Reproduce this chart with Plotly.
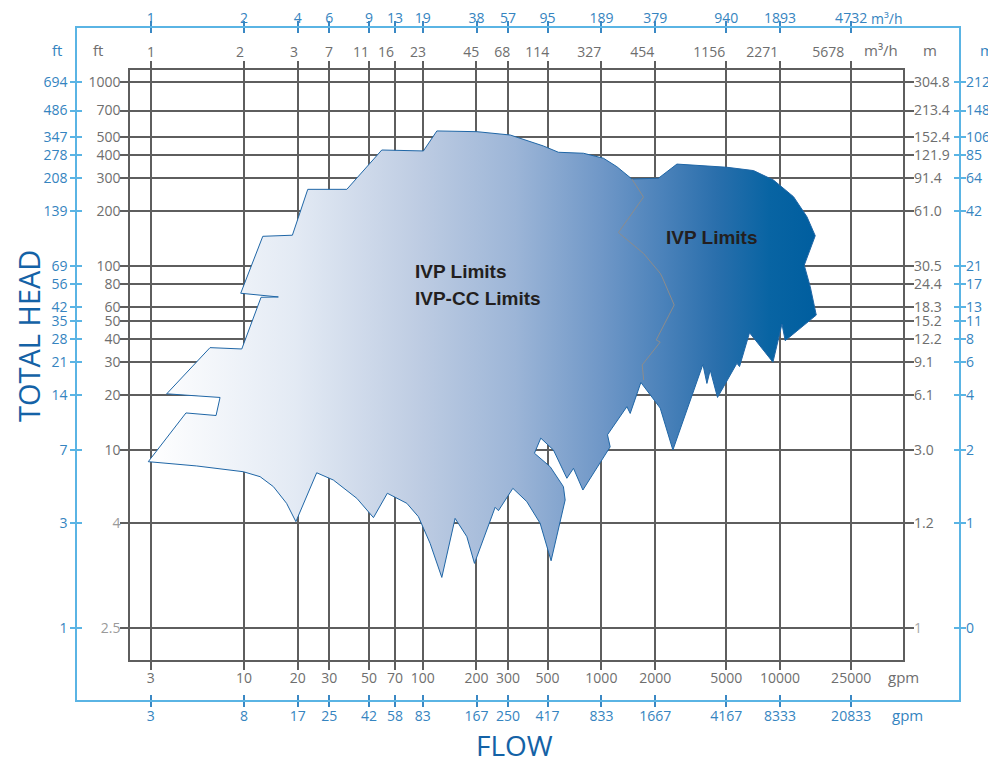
import numpy as np
import plotly.graph_objects as go

# ---------------- data ----------------
flow_gpm_ticks = [3, 10, 20, 30, 50, 70, 100, 200, 300, 500, 1000, 2000, 5000, 10000, 25000]
flow_gpm_labels = [str(v) for v in flow_gpm_ticks]
flow_gpm_blue_labels = ['3', '8', '17', '25', '42', '58', '83', '167', '250', '417', '833',
                        '1667', '4167', '8333', '20833']
flow_top_gray_labels = ['1', '2', '3', '7', '11', '16', '23', '45', '68', '114', '327', '454',
                        '1156', '2271', '5678']
flow_top_blue_labels = ['1', '2', '4', '6', '9', '13', '19', '38', '57', '95', '189', '379',
                        '940', '1893', '4732']

head_ft_ticks = [1000, 700, 500, 400, 300, 200, 100, 80, 60, 50, 40, 30, 20, 10, 4, 1.08]
head_ft_labels = ['1000', '700', '500', '400', '300', '200', '100', '80', '60', '50', '40',
                  '30', '20', '10', '4', '2.5']
head_m_labels = ['304.8', '213.4', '152.4', '121.9', '91.4', '61.0', '30.5', '24.4', '18.3',
                 '15.2', '12.2', '9.1', '6.1', '3.0', '1.2', '1']
head_blue_left_labels = ['694', '486', '347', '278', '208', '139', '69', '56', '42', '35', '28',
                         '21', '14', '7', '3', '1']
head_blue_right_labels = ['212', '148', '106', '85', '64', '42', '21', '17', '13', '11', '8',
                          '6', '4', '2', '1', '0']

# outline of the combined IVP / IVP-CC operating limits (gpm, ft)
limit_flow = [2.91, 4.73, 6.97, 7.34, 3.69, 6.45, 9.71, 12.45, 15.56, 9.58, 12.73, 18.64, 22.73,
              37.6, 59.0, 100.9, 120, 201, 309, 474, 575, 794, 1028, 1221, 1482, 2088, 2647,
              5043, 7105, 9196, 11900, 14150, 15740, 13660, 14760, 15950, 10690, 10250, 9125,
              6748, 5932, 5736, 4467, 4066, 3897, 3701, 2513, 2134, 1664, 1450, 1389, 1082,
              1120, 788, 698, 641, 539, 458, 422, 517, 613, 627, 523, 454, 382.5, 319.5, 265.4,
              254.3, 194.8, 176.6, 151.8, 127.9, 110, 94.6, 81.5, 63.4, 53.0, 42.8, 31.6, 25.5,
              19.5, 17.3, 14.6, 12.3, 9.91, 5.43]
limit_head = [8.64, 15.9, 15.4, 19.3, 20.2, 36.0, 35.4, 67.6, 67.9, 71.1, 145, 147, 261, 261,
              427, 422, 542, 537, 515, 449, 415, 410, 385, 346.5, 297, 300, 358, 344, 330, 293,
              238, 185, 146, 101, 77.2, 54.1, 39.3, 48.4, 30.0, 43.4, 28.4, 29.6, 19.3, 27.2,
              23.0, 29.2, 10.0, 16.9, 23.3, 15.8, 17.2, 12.1, 10.4, 6.06, 7.95, 7.02, 10.0, 11.6,
              9.60, 8.11, 6.32, 5.35, 2.50, 4.00, 5.24, 6.19, 4.68, 4.88, 2.42, 3.38, 4.25, 2.03,
              3.11, 4.34, 5.13, 5.82, 4.29, 5.46, 6.87, 7.52, 4.08, 5.13, 6.32, 7.16, 7.62, 8.19]

# right edge of the IVP-CC region (inside the IVP region)
cc_edge_flow = [1482, 1721, 1246, 1721, 2134, 2189, 2556, 2027, 2134, 1692, 1725]
cc_edge_head = [297, 237, 152, 117, 91.3, 87.1, 61.4, 39.6, 38.6, 29.0, 24.0]

# region label anchors (gpm, ft)
label_texts = ['IVP Limits', 'IVP-CC Limits', 'IVP Limits']
label_flow = [88.3, 88.3, 2247]
label_head = [93.9, 67.0, 142]

# ---------------- geometry (page pixels) ----------------
PAGE_W, PAGE_H = 996, 764
BODY = 8                                  # default page margin around the figure
W, H = PAGE_W - BODY, PAGE_H - BODY
FL, FR, FT, FB = 77, 958.7, 28, 700      # outer blue frame
IL, IR, IT, IB = 130, 903, 70, 660       # inner gray frame
X0, SX = 244, 178.6                      # px of 10 gpm, px per decade
Y0, SY = 82, 184                         # px of 1000 ft, px per decade


def lx(p):
    return 1 + (p - X0) / SX


def ly(p):
    return 3 - (p - Y0) / SY


def pxp(p):
    return (p - FL) / (FR - FL)


def pyp(p):
    return (FB - p) / (FB - FT)


top_label_px = [151, 240, 294, 329, 361, 386, 418, 471, 502, 537, 589, 642, 709, 762, 828]
top_label_pos = [10 ** lx(p) for p in top_label_px]

GRAY = '#5e5e5e'
GTXT = '#6e6e6e'
BLINE = '#5ab4e4'
BTXT = '#3584c0'
FONT = 'Open Sans'

fig = go.Figure()

for xa, ya in [('x3', 'y3'), ('x4', 'y4'), ('x2', 'y2'), ('x5', 'y')]:
    fig.add_trace(go.Scatter(x=[], y=[], xaxis=xa, yaxis=ya, showlegend=False,
                             hoverinfo='skip'))

fig.add_trace(go.Scatter(
    x=limit_flow + limit_flow[:1], y=limit_head + limit_head[:1],
    mode='lines', fill='toself',
    fillgradient=dict(type='horizontal', colorscale=[
        [0.0, '#ffffff'], [0.22, '#e3eaf4'], [0.40, '#bfcde3'], [0.55, '#9cb5d7'],
        [0.68, '#6f97c7'], [0.77, '#4b82ba'], [0.85, '#2a6fac'], [0.93, '#0864a3'],
        [1.0, '#005e9f']]),
    line=dict(color='#1f66a6', width=1), hoverinfo='skip', showlegend=False))

fig.add_trace(go.Scatter(
    x=cc_edge_flow, y=cc_edge_head, mode='lines',
    line=dict(color='#8c8c8c', width=1), hoverinfo='skip', showlegend=False))

inner_x = [pxp(IL), pxp(IR)]
inner_y = [pyp(IB), pyp(IT)]
xr_in = [lx(IL), lx(IR)]
yr_in = [ly(IB), ly(IT)]
xr_out = [lx(FL), lx(FR)]
yr_out = [ly(FB), ly(FT)]

gfont = dict(family=FONT, size=14, color=GTXT)
bfont = dict(family=FONT, size=14, color=BTXT)

ft_labels_html = [t if t not in ('4', '2.5') else f"<span style='color:#9a9a9a'>{t}</span>"
                  for t in head_ft_labels]
m_labels_html = [t if i < len(head_m_labels) - 1 else f"<span style='color:#a8a8a8'>{t}</span>"
                 for i, t in enumerate(head_m_labels)]

common = dict(automargin=False, zeroline=False, type='log', tickmode='array')

fig.update_layout(
    width=W, height=H,
    margin=dict(l=FL - BODY, r=PAGE_W - FR, t=FT - BODY, b=PAGE_H - FB, pad=0,
                autoexpand=False),
    paper_bgcolor='white', plot_bgcolor='rgba(0,0,0,0)',
    showlegend=False,
    xaxis=dict(**common, domain=inner_x, range=xr_in, anchor='y',
               showline=True, linecolor=GRAY, linewidth=1.5, mirror=True,
               ticks='outside', ticklen=8, tickwidth=1.5, tickcolor=GRAY,
               showgrid=True, gridcolor=GRAY, gridwidth=1.5,
               tickvals=flow_gpm_ticks, ticktext=flow_gpm_labels, tickfont=gfont,
               ticklabelstandoff=-4),
    xaxis2=dict(**common, overlaying='x', side='top', anchor='y', range=xr_in,
                ticks='outside', ticklen=8, tickwidth=1.5, tickcolor=GRAY,
                showgrid=False, showline=False,
                tickvals=flow_gpm_ticks, ticktext=[''] * len(flow_gpm_ticks)),
    xaxis5=dict(**common, overlaying='x', side='top', anchor='y', range=xr_in,
                ticks='', showgrid=False, showline=False,
                tickvals=top_label_pos, ticktext=flow_top_gray_labels,
                tickfont=gfont, ticklabelstandoff=9),
    yaxis=dict(**common, domain=inner_y, range=yr_in, anchor='x',
               showline=True, linecolor=GRAY, linewidth=1.5, mirror=True,
               ticks='outside', ticklen=8, tickwidth=1.5, tickcolor=GRAY,
               showgrid=True, gridcolor=GRAY, gridwidth=1.5,
               tickvals=head_ft_ticks, ticktext=ft_labels_html,
               tickfont=gfont, ticklabelstandoff=-3),
    yaxis2=dict(**common, overlaying='y', side='right', anchor='x', range=yr_in,
                ticks='outside', ticklen=10, tickwidth=1.5, tickcolor=GRAY,
                showgrid=False, showline=False,
                tickvals=head_ft_ticks, ticktext=m_labels_html,
                tickfont=gfont, ticklabelstandoff=-3),
    xaxis3=dict(**common, domain=[0, 1], range=xr_out, anchor='y3', side='bottom',
                showline=True, linecolor=BLINE, linewidth=1.5, mirror='ticks',
                ticks='outside', ticklen=5, tickwidth=1.5, tickcolor='#3a88c4',
                showgrid=False,
                tickvals=flow_gpm_ticks, ticktext=flow_gpm_blue_labels, tickfont=bfont,
                ticklabelstandoff=-3),
    xaxis4=dict(**common, overlaying='x3', side='top', anchor='y3', range=xr_out,
                showline=False, mirror='ticks',
                ticks='inside', ticklen=5, tickwidth=1.5, tickcolor='#3a88c4',
                showgrid=False,
                tickvals=flow_gpm_ticks, ticktext=flow_top_blue_labels, tickfont=bfont,
                ticklabelstandoff=1),
    yaxis3=dict(**common, domain=[0, 1], range=yr_out, anchor='x3', side='left',
                showline=True, linecolor=BLINE, linewidth=1.5, mirror='ticks',
                ticks='outside', ticklen=5, tickwidth=1.5, tickcolor=BLINE,
                showgrid=False,
                tickvals=head_ft_ticks, ticktext=head_blue_left_labels, tickfont=bfont),
    yaxis4=dict(**common, overlaying='y3', side='right', anchor='x3', range=yr_out,
                showline=False, mirror='ticks',
                ticks='inside', ticklen=5, tickwidth=1.5, tickcolor=BLINE,
                showgrid=False,
                tickvals=head_ft_ticks, ticktext=head_blue_right_labels,
                tickfont=bfont, ticklabelstandoff=6),
)

for t, fx, fy in zip(label_texts, label_flow, label_head):
    fig.add_annotation(x=np.log10(fx), y=np.log10(fy), xref='x', yref='y',
                       text=f'<b>{t}</b>',
                       showarrow=False, xanchor='left', yanchor='middle',
                       font=dict(family='Liberation Sans', size=19, color='#231f20'))

units = [
    ('ft', 98, 50, GTXT, 15), ('ft', 57, 50, BTXT, 15),
    ('m³/h', 881, 50, GTXT, 15), ('m', 930, 50, GTXT, 15), ('m', 987, 50, BTXT, 15),
    ('m³/h', 887, 18, BTXT, 14),
    ('gpm', 903, 677, GTXT, 15), ('gpm', 907, 715, BTXT, 15),
]
for t, x, y, c, s in units:
    fig.add_annotation(x=pxp(x), y=pyp(y), xref='paper', yref='paper', text=t,
                       showarrow=False, xanchor='center', yanchor='middle',
                       font=dict(family=FONT, size=s, color=c))

fig.add_annotation(x=pxp(28), y=pyp(336), xref='paper', yref='paper', text='TOTAL HEAD',
                   showarrow=False, textangle=-90, xanchor='center', yanchor='middle',
                   font=dict(family=FONT, size=29, color='#1462a6'))
fig.add_annotation(x=pxp(514), y=pyp(745), xref='paper', yref='paper', text='FLOW',
                   showarrow=False, xanchor='center', yanchor='middle', borderpad=0,
                   font=dict(family=FONT, size=28, color='#1462a6'))

fig.write_html('out.html')
